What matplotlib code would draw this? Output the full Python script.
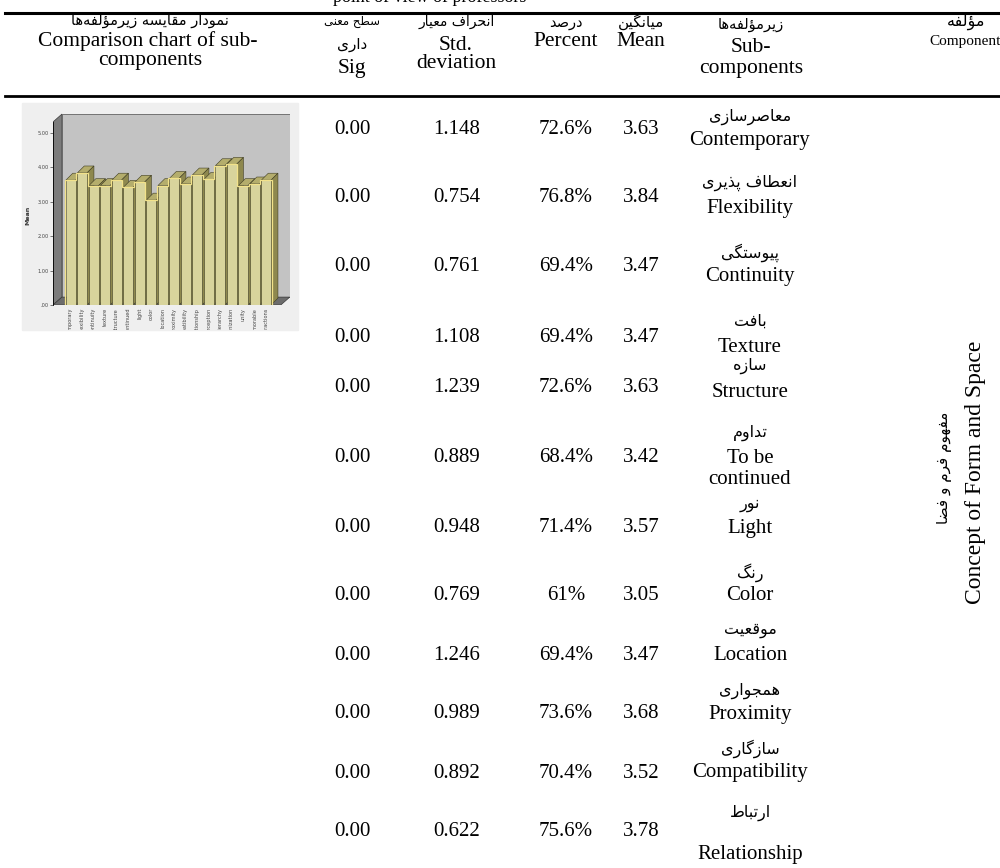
import matplotlib
matplotlib.use('Agg')
import matplotlib.pyplot as plt
import numpy as np
from matplotlib.patches import Polygon, Rectangle
from matplotlib.lines import Line2D
from matplotlib.transforms import Bbox, TransformedBbox

W, H = 1000, 868

# table rows
sub_fa = ['معاصرسازی', 'انعطاف پذیری', 'پیوستگی', 'بافت', 'سازه', 'تداوم',
          'نور', 'رنگ', 'موقعیت', 'همجواری', 'سازگاری', 'ارتباط']
sub_en = ['Contemporary', 'Flexibility', 'Continuity', 'Texture', 'Structure',
          'To be\ncontinued', 'Light', 'Color', 'Location', 'Proximity',
          'Compatibility', 'Relationship']
mean_vals = ['3.63', '3.84', '3.47', '3.47', '3.63', '3.42', '3.57', '3.05',
             '3.47', '3.68', '3.52', '3.78']
percent_vals = ['72.6%', '76.8%', '69.4%', '69.4%', '72.6%', '68.4%', '71.4%',
                '61%', '69.4%', '73.6%', '70.4%', '75.6%']
std_vals = ['1.148', '0.754', '0.761', '1.108', '1.239', '0.889', '0.948',
            '0.769', '1.246', '0.989', '0.892', '0.622']
sig_vals = ['0.00'] * 12

# small SPSS chart in the first column (18 sub-components)
chart_labels = ['contemporary', 'flexibility', 'continuity', 'texture', 'structure',
                'tobecontinued', 'light', 'color', 'location', 'proximity',
                'compatibility', 'relationship', 'perception', 'hierarchy',
                'organization', 'unity', 'memorable', 'socialinteractions']
chart_means = [3.63, 3.84, 3.47, 3.47, 3.63, 3.42, 3.57, 3.05, 3.47, 3.68,
               3.52, 3.78, 3.65, 4.05, 4.09, 3.47, 3.52, 3.63]

# layout (pixel rows from the top)
row_y = [129, 198, 267, 337, 387, 457, 527, 596, 655, 714, 773, 832]
fa_y = [117, 183, 253, 321, 366, 433, 504, 573, 631, 691, 749, 813]
en_y = [140, 209, 277, 347, 392, 469, 528, 596, 655, 715, 773, 855]
col_x = {'sig': 352, 'std': 457, 'pct': 566, 'mean': 641, 'sub': 750}

# --- minimal Persian shaping (presentation forms + right-to-left order)
FORMS = {
    'ا': ('\uFE8D', '\uFE8E', None, None), 'ب': ('\uFE8F', '\uFE90', '\uFE91', '\uFE92'),
    'پ': ('\uFB56', '\uFB57', '\uFB58', '\uFB59'), 'ت': ('\uFE95', '\uFE96', '\uFE97', '\uFE98'),
    'ج': ('\uFE9D', '\uFE9E', '\uFE9F', '\uFEA0'), 'ح': ('\uFEA1', '\uFEA2', '\uFEA3', '\uFEA4'),
    'د': ('\uFEA9', '\uFEAA', None, None), 'ذ': ('\uFEAB', '\uFEAC', None, None),
    'ر': ('\uFEAD', '\uFEAE', None, None), 'ز': ('\uFEAF', '\uFEB0', None, None),
    'س': ('\uFEB1', '\uFEB2', '\uFEB3', '\uFEB4'), 'ص': ('\uFEB9', '\uFEBA', '\uFEBB', '\uFEBC'),
    'ض': ('\uFEBD', '\uFEBE', '\uFEBF', '\uFEC0'), 'ط': ('\uFEC1', '\uFEC2', '\uFEC3', '\uFEC4'),
    'ع': ('\uFEC9', '\uFECA', '\uFECB', '\uFECC'), 'ف': ('\uFED1', '\uFED2', '\uFED3', '\uFED4'),
    'ق': ('\uFED5', '\uFED6', '\uFED7', '\uFED8'), 'گ': ('\uFB92', '\uFB93', '\uFB94', '\uFB95'),
    'ل': ('\uFEDD', '\uFEDE', '\uFEDF', '\uFEE0'), 'م': ('\uFEE1', '\uFEE2', '\uFEE3', '\uFEE4'),
    'ن': ('\uFEE5', '\uFEE6', '\uFEE7', '\uFEE8'), 'ه': ('\uFEE9', '\uFEEA', '\uFEEB', '\uFEEC'),
    'و': ('\uFEED', '\uFEEE', None, None), 'ؤ': ('\uFE85', '\uFE86', None, None),
    'ی': ('\uFBFC', '\uFBFD', '\uFBFE', '\uFBFF'),
}


def shape(s):
    out = []
    for i, c in enumerate(s):
        if c == '\u200c':
            continue
        if c not in FORMS:
            out.append(c)
            continue
        prev = s[i - 1] if i > 0 else None
        nxt = s[i + 1] if i + 1 < len(s) else None
        join_prev = prev in FORMS and FORMS[prev][2] is not None
        join_next = nxt in FORMS and FORMS[c][2] is not None
        iso, fin, ini, med = FORMS[c]
        if join_prev and join_next:
            out.append(med)
        elif join_prev:
            out.append(fin)
        elif join_next:
            out.append(ini)
        else:
            out.append(iso)
    return ''.join(reversed(out))


fig = plt.figure(figsize=(10, 8.68), dpi=100)

SERIF = ['Liberation Serif', 'DejaVu Sans']
FA = ['DejaVu Sans']


def put(x, y, s, size=15, fa=False, **kw):
    fig.text(x / W, 1 - y / H, shape(s) if fa else s, fontsize=size,
             family=FA if fa else SERIF, ha='center', va='center', **kw)


def hline(y, lw):
    fig.add_artist(Line2D([5 / W, 1.0], [1 - y / H] * 2, lw=lw, color='black'))


# title, cut off by the top edge in the source
fig.text(430 / W, 1 - 1.5 / H, 'point of view of professors', fontsize=13,
         family=SERIF, ha='center', va='baseline')
hline(13, 2.2)
hline(96, 2.0)

# header
put(150, 21, 'نمودار مقایسه زیرمؤلفه\u200cها', 10.5, fa=True)
put(148, 41, 'Comparison chart of sub-', 15.5)
put(150, 61, 'components', 15.5)
put(352, 22, 'سطح معنی', 8.5, fa=True)
put(352, 45, 'داری', 11, fa=True)
put(352, 69, 'Sig', 15.5)
put(457, 22, 'انحراف معیار', 10, fa=True)
put(456, 45, 'Std.', 15.5)
put(456, 63, 'deviation', 15.5)
put(566, 22, 'درصد', 10.5, fa=True)
put(566, 41, 'Percent', 15.5)
put(641, 22, 'میانگین', 11, fa=True)
put(641, 41, 'Mean', 15.5)
put(751, 25, 'زیرمؤلفه\u200cها', 10.5, fa=True)
put(751, 48, 'Sub-', 15.5)
put(751, 68, 'components', 15.5)
put(966, 22, 'مؤلفه', 11.5, fa=True)
put(965, 41, 'Component', 11)

# body rows
for i in range(len(sub_en)):
    y = row_y[i]
    put(col_x['sig'], y, sig_vals[i])
    put(col_x['std'], y, std_vals[i])
    put(col_x['pct'], y, percent_vals[i])
    put(col_x['mean'], y, mean_vals[i])
    put(col_x['sub'], fa_y[i], sub_fa[i], 11.5, fa=True)
    put(col_x['sub'], en_y[i], sub_en[i], linespacing=1.12)

# component label (vertical)
put(945, 468, 'مفهوم فرم و فضا', 11, fa=True, rotation=90)
put(976, 472, 'Concept of Form and Space', 17, rotation=90)

# ---- embedded 3D-looking bar chart
fig.add_artist(Rectangle((22 / W, 1 - 330 / H), 276 / W, 227 / H,
                         transform=fig.transFigure, color='#efefef', zorder=-1))

ax = fig.add_axes([53 / W, 1 - 305 / H, 237 / W, 192 / H])
ax.set_facecolor('none')
a = -1.54
b = a + 237 / 11.5
front_top = 5.32
wdx, wdy = 0.78, 0.23
ax.set_xlim(a, b)
ax.set_ylim(0, 5.58)

ax.add_patch(Polygon([(a, 0), (a, front_top), (a + wdx, front_top + wdy), (a + wdx, wdy)],
                     closed=True, fc='#7c7c7c', ec='#3a3a3a', lw=0.5, zorder=1))
ax.add_patch(Rectangle((a + wdx, wdy), b - a - wdx - 0.02, front_top,
                       fc='#c3c3c3', ec='#4a4a4a', lw=0.5, zorder=1))
ax.add_patch(Polygon([(a, 0), (a + wdx, wdy), (b - 0.02, wdy), (b - 0.02 - wdx, 0)],
                     closed=True, fc='#6c6c6c', ec='#3a3a3a', lw=0.5, zorder=1))

xs = np.arange(len(chart_means))
bw = 0.84
bdx, bdy = 0.6, 0.2
bars = ax.bar(xs, chart_means, width=bw, color='#d8d49c', edgecolor='#3e3c22', lw=0.4)
for i, (x, v) in enumerate(zip(xs, chart_means)):
    z = 3 + i * 0.01
    l, r = x - bw / 2, x + bw / 2
    ax.add_patch(Polygon([(l, v), (l + bdx, v + bdy), (r + bdx, v + bdy), (r, v)],
                         closed=True, fc='#b4ad6c', ec='#3e3c22', lw=0.4, zorder=z))
    ax.add_patch(Polygon([(r, 0), (r, v), (r + bdx, v + bdy), (r + bdx, bdy)],
                         closed=True, fc='#8e884e', ec='#3e3c22', lw=0.4, zorder=z))
    bars[i].set_zorder(z + 0.005)
ax.stairs(chart_means, np.arange(len(chart_means) + 1) - 0.5, baseline=0,
          color='#f2e28a', lw=0.9, zorder=5)

for s in ['top', 'right', 'bottom']:
    ax.spines[s].set_visible(False)
ax.spines['left'].set_bounds(0, front_top)
ax.spines['left'].set_linewidth(0.6)
ax.set_yticks([0, 1, 2, 3, 4, 5])
ax.set_yticklabels(['.00', '1.00', '2.00', '3.00', '4.00', '5.00'])
ax.tick_params(axis='y', labelsize=3.6, length=2, width=0.5, pad=1, colors='#444444')
ax.set_xticks(xs)
ax.set_xticklabels(chart_labels, rotation=90, fontsize=3.6, color='#444444')
ax.tick_params(axis='x', length=0, pad=2)
clip = TransformedBbox(Bbox.from_extents(22 / W, 1 - 330 / H, 298 / W, 1 - 103 / H),
                       fig.transFigure)
for t in ax.get_xticklabels():
    t.set_clip_box(clip)
    t.set_clip_on(True)
fig.text(28 / W, 1 - 215 / H, 'Mean', rotation=90, fontsize=4.5, fontweight='bold',
         ha='center', va='center', color='#333333')

fig.savefig('out.png', dpi=100)
